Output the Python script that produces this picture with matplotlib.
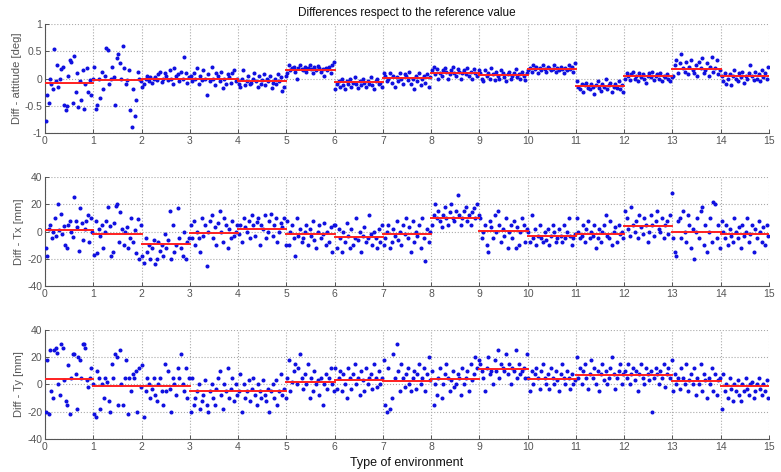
import numpy as np
import matplotlib
matplotlib.use("Agg")
import matplotlib.pyplot as plt
from matplotlib.ticker import FuncFormatter

# ---------------- data ----------------
segments = list(range(15))

attitude = [
    [-0.78, -0.3, -0.45, 0.0, -0.1, -0.2, 0.55, -0.05, 0.25, -0.15, 0.0, 0.18, 0.22, -0.48, -0.58, -0.5, 0.05, 0.35, 0.3, -0.45, 0.42, -0.25, 0.1, -0.52, -0.05, -0.4, 0.15, -0.55, -0.1, 0.2, -0.25, -0.02, -0.3, 0.0],
    [0.22, -0.55, -0.48, 0.0, -0.35, 0.12, -0.2, 0.05, 0.56, 0.52, -0.1, 0.0, 0.22, 0.02, -0.48, 0.38, 0.45, 0.28, 0.0, 0.6, 0.2, -0.1, -0.02, 0.15, -0.58, -0.88, -0.2, -0.68, -0.4, 0.12, 0.0, -0.05],
    [-0.15, -0.1, 0.0, 0.05, -0.05, 0.02, -0.08, 0.0, 0.03, -0.03, 0.08, 0.12, -0.06, 0.0, 0.1, 0.05, -0.02, 0.15, 0.0, -0.1, 0.2, 0.05, 0.08, -0.05, 0.12, 0.0, 0.4, 0.1, -0.08, 0.03],
    [0.05, -0.05, 0.1, 0.0, 0.2, -0.1, 0.05, -0.02, 0.15, 0.0, -0.3, 0.08, -0.05, 0.22, 0.0, -0.12, 0.1, 0.05, -0.05, 0.12, -0.18, 0.0, -0.1, 0.08, 0.02, -0.08, 0.1, 0.15, -0.05, 0.0],
    [-0.1, -0.15, 0.0, 0.15, -0.12, -0.05, 0.05, -0.1, -0.08, 0.0, 0.1, -0.05, -0.15, 0.05, -0.1, -0.02, 0.08, -0.12, 0.0, -0.05, 0.05, -0.18, -0.08, 0.0, -0.1, 0.08, -0.05, 0.02, -0.22, -0.15, 0.05],
    [0.1, 0.25, 0.15, 0.2, 0.22, 0.12, 0.0, 0.2, 0.25, 0.18, 0.15, 0.22, 0.12, 0.2, 0.25, 0.18, 0.1, 0.22, 0.15, 0.24, 0.2, 0.12, 0.18, 0.05, 0.2, 0.15, 0.22, 0.1, 0.25, 0.3],
    [-0.2, -0.1, -0.05, -0.15, 0.0, -0.12, -0.2, -0.05, -0.1, 0.0, -0.15, -0.08, 0.02, -0.1, -0.18, -0.05, -0.12, 0.0, -0.08, -0.15, -0.05, -0.1, 0.02, -0.12, -0.2, -0.05, 0.0, -0.1, -0.08, -0.15],
    [0.1, 0.05, -0.05, 0.0, 0.1, -0.08, 0.05, -0.15, 0.02, -0.05, 0.1, 0.0, -0.1, 0.08, 0.05, -0.03, 0.12, -0.1, 0.0, -0.2, 0.05, -0.05, 0.1, -0.12, 0.0, 0.05, -0.08, 0.08, -0.15, 0.02],
    [0.15, 0.22, 0.08, 0.18, 0.0, 0.1, 0.05, 0.15, 0.2, 0.12, 0.0, 0.08, 0.15, 0.22, 0.1, 0.05, 0.18, 0.12, 0.0, 0.1, 0.15, 0.08, 0.2, 0.05, 0.12, 0.0, 0.18, 0.1, 0.05, 0.15],
    [0.1, 0.0, -0.05, 0.15, 0.05, 0.1, 0.0, 0.2, 0.08, -0.02, 0.12, 0.05, 0.0, 0.15, 0.1, 0.02, -0.05, 0.08, 0.12, 0.0, 0.05, 0.1, 0.18, 0.02, 0.08, 0.0, 0.12, 0.05, -0.02, 0.1],
    [0.15, 0.2, 0.12, 0.25, 0.18, 0.22, 0.1, 0.2, 0.15, 0.25, 0.18, 0.12, 0.22, 0.2, 0.15, 0.18, 0.25, 0.12, 0.2, 0.15, 0.22, 0.18, 0.1, 0.2, 0.15, 0.25, 0.18, 0.22, 0.12, 0.28],
    [-0.05, -0.15, -0.2, -0.1, -0.25, -0.12, -0.08, -0.18, -0.2, -0.1, -0.15, -0.28, -0.12, -0.05, -0.18, -0.22, -0.1, -0.15, 0.0, -0.2, -0.12, -0.08, -0.25, -0.15, -0.1, -0.18, -0.05, -0.2, -0.12, -0.25],
    [0.0, 0.1, 0.05, -0.02, 0.08, 0.12, 0.0, 0.05, -0.05, 0.1, 0.02, 0.08, 0.0, -0.08, 0.05, 0.1, 0.02, 0.12, -0.02, 0.05, 0.08, 0.0, 0.1, -0.05, 0.05, 0.02, 0.08, 0.0, -0.05, 0.03],
    [0.05, 0.25, 0.35, 0.1, 0.28, 0.45, 0.2, 0.12, 0.3, 0.08, 0.22, 0.35, 0.15, 0.1, 0.25, 0.05, 0.3, 0.2, 0.38, 0.1, 0.15, 0.28, 0.05, 0.22, 0.4, 0.12, 0.2, 0.35, 0.08, 0.15],
    [0.05, -0.05, 0.1, -0.1, 0.0, 0.08, -0.12, 0.05, 0.15, 0.0, -0.05, 0.1, 0.02, 0.12, -0.08, 0.05, 0.0, 0.1, 0.25, 0.05, -0.02, 0.12, 0.0, 0.08, -0.05, 0.15, 0.02, 0.1, 0.0, 0.22],
]
attitude_mean = [-0.09, -0.03, 0.0, -0.01, -0.04, 0.16, -0.07, 0.01, 0.10, 0.06, 0.18, -0.13, 0.04, 0.18, 0.04]

tx = [
    [-12, -18, 2, 5, -5, 0, 10, -3, 20, 1, 13, -2, 4, -10, -12, 5, 8, 0, -4, 25, 8, 3, -14, 17, 6, -6, 2, 8, 12, -8, 10, 0],
    [-17, 8, -16, 2, -3, 5, -12, 0, 8, 18, 4, -18, -15, 6, 19, 20, -8, 14, 2, -10, 0, 3, -12, -5, 10, -8, 1, -16, 9, -20, 5],
    [-18, -23, -5, -15, -10, -20, -12, -6, -24, -20, -8, -14, -10, -18, -2, -12, -6, 15, -20, 5, -15, -10, 17, -5, -12, -18, 0, -20, -8, -5],
    [5, -5, 8, -10, 0, -5, -15, 10, -3, 5, -25, 0, 8, 12, -5, 3, -10, 6, 15, 0, -8, 10, 5, -12, 2, -5, 8, -3, 0, 5],
    [-2, 5, -8, 10, 3, 0, 8, -5, 12, 5, -3, 7, 10, -10, 5, 2, 12, -5, 0, 8, 13, -3, 5, 10, -8, 0, 6, 3, 10, -10],
    [8, -10, 0, 5, -5, -18, 10, -3, 2, -8, -5, 0, 5, -10, 2, -3, 8, -6, -12, 0, 5, -5, -2, 6, -10, 0, -8, 3, -15, 5],
    [5, -12, 2, -5, -15, 0, -8, 6, -3, -12, 2, -10, -5, 10, -6, 0, -15, -3, 3, -8, -5, 12, -2, -10, 0, -5, -12, 2, -8, 5],
    [-10, -5, 0, 5, -12, -8, 2, -3, 8, -6, 0, -10, 5, -2, 10, -5, 3, -15, 8, -8, 0, -3, 5, -12, 10, -5, -22, 2, -8, 0],
    [5, 12, 20, 10, 15, 8, 3, 12, 18, 10, 5, 14, 20, 10, 8, 15, 27, 12, 5, 10, 15, 18, 8, 12, 5, 14, 17, 10, 20, 12],
    [10, -5, 0, 5, -10, -15, 8, 3, -5, 12, 0, 15, 5, -8, 2, -3, 10, -12, 0, 5, -5, 8, -12, 3, -10, 0, 10, 5, -8, 2],
    [0, -8, 12, -5, 2, -10, -3, 5, -5, -8, 0, -6, 2, -10, -3, 5, 0, -8, -5, 2, -3, -8, 5, -5, 0, 10, -3, -10, -5, -2],
    [10, 0, -5, -3, 5, -8, 2, 8, -5, 0, -3, 5, -12, -5, 2, -8, 0, 5, 12, -3, -5, 8, -10, 0, 3, -8, 5, -2, 0, -5],
    [15, 10, 2, -3, 18, 5, 0, 8, -5, 12, 3, -2, 10, 5, -8, 0, 12, 5, -3, 8, 15, 2, 0, 10, -5, 5, 8, -2, 12, 28],
    [-5, -15, -18, 8, 10, -5, 15, 0, -8, 12, 5, -12, 2, -20, 0, 10, -5, 15, 18, -10, 5, -15, 0, 10, -8, 22, 20, -5, 5, -12],
    [8, 0, -5, 5, -10, 2, -3, -8, 10, 0, -5, 3, -12, 5, -3, 0, 10, -8, -2, 5, -15, 2, -5, 8, 0, -8, 3, -10, 5, -3],
]
tx_mean = [1, -2, -9, -1, 2, -2, -4, -2, 10, 0.5, -3, -1.5, 4, 0, -2]

ty = [
    [-20, 18, -22, 25, -5, -10, 25, 27, 23, 0, -8, 30, 27, 3, -12, -15, 14, -22, 5, 22, 22, 8, -18, 20, 18, 5, 30, 30, 27, 3, -2, 5, 12, 0],
    [-22, -24, 10, 5, -18, 0, -10, 5, 2, -12, -20, 15, 5, 22, 20, -15, 25, 0, -15, 5, 18, -22, 5, -5, 8, 5, 10, -20, 12, -2],
    [14, -24, -5, 5, 0, -10, -3, 5, -8, -12, 0, 5, -5, -15, 15, -5, 10, -3, -20, 5, 0, -8, 12, 5, 22, 0, -5, 12, -10, 5],
    [-20, 5, -15, -10, -5, 0, -18, -12, -8, 3, -15, -20, -5, 0, -10, -15, -3, 5, 10, -8, -18, 0, -5, 12, -10, -3, 5, -12, 0, -8],
    [-5, 8, -20, 0, -10, -5, 3, -12, -3, 5, -8, -15, 0, -5, -10, 3, -8, -12, -3, -20, -5, 0, -10, 3, -15, -5, 8, -8, -3, -10],
    [5, 18, -5, 2, 10, 15, 0, 12, 22, 5, -3, 8, 0, 15, -10, 5, -5, 10, 0, 3, -8, 5, -15, 0, 8, -3, 5, 12, 0, -5],
    [12, -3, 5, 10, -5, 8, 0, -10, 12, 5, -3, 8, 15, 0, 5, -8, 10, 3, -5, 12, 0, 5, 8, -3, 15, 5, -2, 10, 0, 5],
    [18, -15, -20, 12, -18, -10, 22, 5, 30, 10, -5, 15, 5, -2, 8, 12, 0, -5, 5, 10, -3, 8, 15, 0, 5, 12, -5, 8, 20, 3],
    [10, -15, 0, -8, 5, 12, -10, 0, 8, 15, 5, -5, 3, 10, -2, 0, 8, 5, -8, 12, 0, 5, 10, -5, 15, 3, 8, 20, 12, 18],
    [15, 10, 5, -5, 12, 20, 8, 10, 0, 18, 10, 25, 5, 15, 12, 10, 22, 8, 15, 0, 12, 10, 25, 5, 15, 8, 10, 12, 5, 22],
    [5, -5, 10, 0, 8, 12, 5, -3, 10, 15, 5, 0, 8, -3, 12, 5, 0, 10, 3, -5, 8, 15, 5, 0, 10, 5, -3, 8, 0, 3],
    [20, 5, 12, 0, 10, 15, 5, -3, 8, 18, 5, 12, 0, 10, -5, 8, 15, 3, 10, 0, 5, 12, 20, 8, -3, 5, 10, 15, 0, 8],
    [10, 5, 15, 0, 8, 12, 3, 10, -5, 8, 15, 5, 0, 12, 8, 3, 10, -20, 5, 12, 8, 0, 10, 5, 15, -2, 8, 12, 5, 18],
    [-5, 8, 0, 5, -3, 12, 5, 0, 15, -5, 3, 8, 0, 12, -8, 5, 0, 15, -5, 8, 3, -10, 5, 0, 12, -5, 8, -8, 3, 5],
    [-18, 8, -5, 0, -10, 5, -3, -12, 0, -5, 3, -8, -12, 0, -5, 5, -3, -8, 0, 2, -10, -5, 0, 5, -3, -8, 0, -5, 3, -10],
]
ty_mean = [4, -1, -1.5, -5, -5, 2, 3, 2.5, 4, 11, 4, 7, 7, 2.5, -1.5]

ylabels = ["Diff - attitude [deg]", "Diff - Tx [mm]", "Diff - Ty [mm]"]
x_ticks = list(range(16))

# ---------------- figure ----------------
plt.rcParams['font.family'] = ['Liberation Sans', 'DejaVu Sans']
fig = plt.figure(figsize=(7.81, 4.72), dpi=100)

left, width = 0.0576, 0.927
rects = [(left, 0.718, width, 0.231), (left, 0.394, width, 0.231), (left, 0.070, width, 0.231)]
panels = [(attitude, attitude_mean, (-1, 1), [-1, -0.5, 0, 0.5, 1]),
          (tx, tx_mean, (-40, 40), [-40, -20, 0, 20, 40]),
          (ty, ty_mean, (-40, 40), [-40, -20, 0, 20, 40])]

for rect, (data, means, ylim, yticks), ylab in zip(rects, panels, ylabels):
    ax = fig.add_axes(rect)
    for s in segments:
        vals = data[s]
        xs = np.linspace(s, s + 1, len(vals), endpoint=False) + 0.5 / len(vals)
        ax.plot(xs, vals, '.', color='#1010e0', markersize=3.8, zorder=3)
        ax.plot([s, s + 1], [means[s], means[s]], '-', color='#ff2020', lw=1.4, zorder=4)
    ax.set_xlim(0, 15)
    ax.set_ylim(*ylim)
    ax.set_xticks(x_ticks)
    ax.set_yticks(yticks)
    ax.yaxis.set_major_formatter(FuncFormatter(lambda v, p: f"{v:g}"))
    ax.grid(True, linestyle=':', color='#aaaaaa', lw=0.8)
    for sp in ['top', 'right']:
        ax.spines[sp].set_visible(False)
    for sp in ['left', 'bottom']:
        ax.spines[sp].set_color('#555555')
        ax.spines[sp].set_linewidth(0.8)
    ax.tick_params(direction='in', length=3, width=0.7, colors='#555555',
                   labelsize=7.5, labelcolor='#555555', pad=2)
    ax.set_ylabel(ylab, fontsize=8, color='#555555', labelpad=2)
    if ylab.startswith("Diff - attitude"):
        ax.set_title("Differences respect to the reference value", fontsize=8.5,
                     color='#111111', pad=6)
    if ylab.startswith("Diff - Ty"):
        ax.set_xlabel("Type of environment", fontsize=9, color='#111111', labelpad=4)

fig.savefig("out.png", dpi=100)
